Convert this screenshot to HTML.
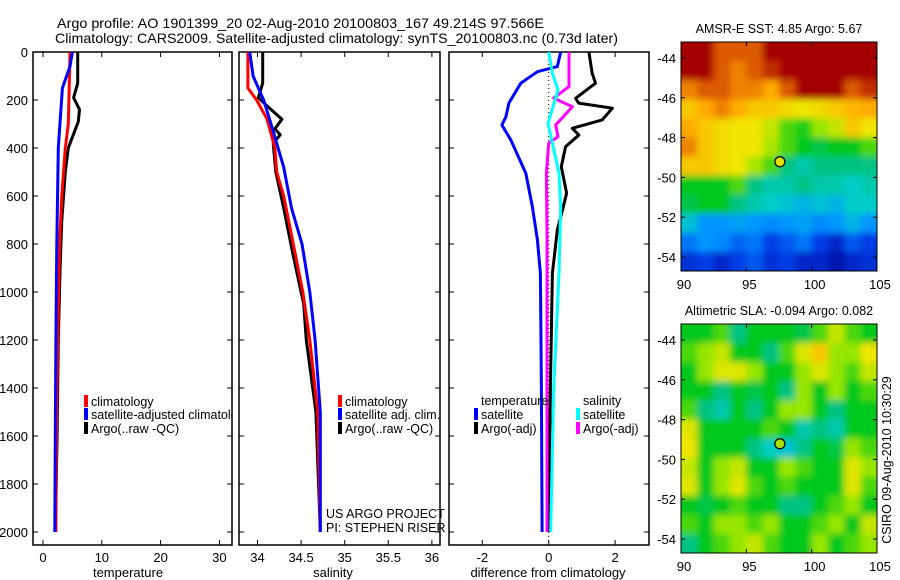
<!DOCTYPE html>
<html><head><meta charset="utf-8"><style>
body{margin:0;background:#fff}
svg{display:block;font-family:"Liberation Sans",sans-serif}
</style></head><body>
<svg id="chart" width="900" height="580" viewBox="0 0 900 580" xmlns="http://www.w3.org/2000/svg">
<defs>
<filter id="blur" x="-5%" y="-5%" width="110%" height="110%"><feGaussianBlur stdDeviation="3.5"/></filter>
<clipPath id="mapclip1"><rect x="681" y="42" width="196" height="229"/></clipPath>
<clipPath id="mapclip2"><rect x="681" y="324" width="196" height="229"/></clipPath>
</defs>
<rect width="900" height="580" fill="#fff"/>
<text x="57" y="28" font-size="14" textLength="487" lengthAdjust="spacingAndGlyphs">Argo profile: AO 1901399_20 02-Aug-2010 20100803_167 49.214S 97.566E</text>
<text x="55" y="43" font-size="14" textLength="563" lengthAdjust="spacingAndGlyphs">Climatology: CARS2009. Satellite-adjusted climatology: synTS_20100803.nc (0.73d later)</text>
<g id="g"></g>
</svg>
<script>
// ---- data ----
const depthsTClim=[0,100,300,400,600,800,1200,1600,2000];
const tempClim=[4.6,4.5,4.3,3.8,3.2,2.8,2.5,2.3,2.2];
const depthsTSat=[0,60,150,400,800,1200,1600,2000];
const tempSat=[5.0,4.6,3.3,2.6,2.35,2.2,2.1,2.0];
const depthsTArgo=[0,130,190,240,290,400,500,700,900,1200,1600,2000];
const tempArgo=[5.9,5.9,5.2,6.2,6.0,4.3,3.8,3.2,2.9,2.6,2.4,2.1];
const depthsSClim=[0,150,200,280,400,500,600,800,1000,1200,1500,2000];
const salClim=[33.89,33.89,33.99,34.11,34.20,34.22,34.30,34.41,34.52,34.60,34.69,34.72];
const depthsSSat=[0,100,200,330,480,650,800,1000,1200,1500,2000];
const salSat=[33.91,33.95,34.07,34.18,34.30,34.39,34.51,34.60,34.66,34.72,34.72];
const depthsSArgo=[0,130,190,225,280,320,345,380,500,650,850,1050,1200,1500,2000];
const salArgo=[34.06,34.06,34.01,34.11,34.28,34.20,34.26,34.18,34.21,34.30,34.41,34.53,34.56,34.67,34.72];
const depthsDTSat=[0,61,82,130,213,270,304,367,505,645,783,922,1400,2000];
const diffTSat=[0.36,0.26,-0.34,-0.84,-1.2,-1.29,-1.41,-1.14,-0.69,-0.49,-0.34,-0.25,-0.22,-0.2];
const depthsDTArgo=[0,89,130,193,213,234,283,318,346,394,478,588,645,742,922,1400,2000];
const diffTArgo=[1.21,1.31,1.41,0.81,0.9,1.92,1.61,0.71,0.91,0.51,0.38,0.54,0.44,0.26,0.11,0.05,0.0];
const depthsDSArgo=[0,144,192,228,304,353,380,505,783,1400,2000];
const diffSArgo=[0.61,0.61,0.15,0.71,0.21,0.28,0.0,-0.07,-0.05,-0.05,-0.05];
const depthsDSSat=[0,89,158,228,297,380,505,645,922,1400,2000];
const diffSSat=[0.0,0.11,0.28,0.13,-0.02,0.11,0.31,0.36,0.31,0.15,0.06];
const depthTicks=[0,200,400,600,800,1000,1200,1400,1600,1800,2000];
const tempTicks=[0,10,20,30];
const salTicks=[34,34.5,35,35.5,36];
const diffTicks=[-2,0,2];
const latTicks=[-44,-46,-48,-50,-52,-54];
const lonTicks=[90,95,100,105];
const sstGrid=[
[1,1,0.9,0.9,0.9,1,1,1,1,1,1,1],
[1,1,0.9,0.85,0.9,0.95,1,1,1,1,1,1],
[0.85,0.9,0.9,0.85,0.85,0.8,0.9,1,1,1,0.9,0.95],
[0.75,0.8,0.85,0.8,0.75,0.75,0.72,0.7,0.72,0.75,0.78,0.8],
[0.8,0.75,0.72,0.7,0.7,0.65,0.55,0.52,0.6,0.65,0.75,0.7],
[0.85,0.75,0.72,0.7,0.7,0.62,0.55,0.5,0.48,0.5,0.5,0.55],
[0.75,0.75,0.72,0.7,0.62,0.55,0.45,0.42,0.45,0.45,0.45,0.45],
[0.5,0.5,0.5,0.55,0.45,0.42,0.42,0.45,0.42,0.42,0.4,0.42],
[0.48,0.5,0.5,0.45,0.42,0.4,0.38,0.35,0.38,0.35,0.4,0.4],
[0.38,0.3,0.3,0.32,0.3,0.28,0.3,0.32,0.28,0.3,0.35,0.3],
[0.25,0.3,0.28,0.22,0.25,0.15,0.2,0.25,0.15,0.1,0.2,0.15],
[0.12,0.15,0.1,0.15,0.2,0.12,0.15,0.1,0.1,0.05,0.1,0.12]];
const slaGrid=[
[0.5,0.5,0.55,0.45,0.5,0.5,0.5,0.48,0.55,0.65,0.55,0.5],
[0.55,0.6,0.65,0.5,0.5,0.45,0.55,0.68,0.75,0.6,0.6,0.7],
[0.5,0.6,0.68,0.68,0.6,0.5,0.5,0.6,0.68,0.6,0.55,0.65],
[0.5,0.5,0.45,0.5,0.48,0.5,0.45,0.6,0.5,0.6,0.5,0.55],
[0.55,0.45,0.42,0.5,0.45,0.5,0.6,0.6,0.5,0.45,0.5,0.5],
[0.68,0.5,0.5,0.5,0.5,0.55,0.5,0.42,0.45,0.42,0.5,0.5],
[0.7,0.5,0.5,0.5,0.45,0.4,0.38,0.45,0.5,0.48,0.6,0.55],
[0.65,0.5,0.6,0.65,0.5,0.5,0.6,0.55,0.5,0.5,0.68,0.6],
[0.68,0.5,0.6,0.68,0.55,0.5,0.55,0.5,0.5,0.5,0.68,0.55],
[0.5,0.48,0.5,0.55,0.5,0.5,0.45,0.45,0.5,0.55,0.6,0.5],
[0.55,0.5,0.6,0.6,0.55,0.6,0.5,0.5,0.55,0.6,0.5,0.65],
[0.45,0.5,0.55,0.6,0.65,0.55,0.5,0.5,0.6,0.5,0.55,0.6]];
const floatLon=97.566, floatLat=-49.214;

// ---- drawing ----
const NS='http://www.w3.org/2000/svg';
const G=document.getElementById('g');
function el(t,a,p){const e=document.createElementNS(NS,t);for(const k in a)e.setAttribute(k,a[k]);(p||G).appendChild(e);return e;}
function txt(s,a,p){const e=el('text',a,p);e.textContent=s;return e;}
const yD=d=>52+d*0.24;
const Y0=52,Y1=545;
const panels=[
 {name:'temperature',x0:33,x1:232,xs:v=>43+(v-0)*5.88,ticks:tempTicks,label:'temperature',lx:128},
 {name:'salinity',x0:239,x1:440,xs:v=>257.5+(v-34)*87.2,ticks:salTicks,label:'salinity',lx:333},
 {name:'difference',x0:449,x1:649,xs:v=>548.7+v*33.2,ticks:diffTicks,label:'difference from climatology',lx:548}
];
panels.forEach((p,i)=>{
 const f=el('rect',{x:p.x0,y:Y0,width:p.x1-p.x0,height:Y1-Y0,fill:'none',stroke:'#000','stroke-width':1.5});
 
 
 p.ticks.forEach(t=>{const x=p.xs(t);
  el('line',{x1:x,x2:x,y1:Y1,y2:Y1-5,stroke:'#000'});el('line',{x1:x,x2:x,y1:Y0,y2:Y0+5,stroke:'#000'});
  const l=txt(String(t),{x:x,y:562,'font-size':13,'text-anchor':'middle'});
  
  
 });
 depthTicks.forEach(d=>{const y=yD(d);
  el('line',{x1:p.x0,x2:p.x0+5,y1:y,y2:y,stroke:'#000'});el('line',{x1:p.x1,x2:p.x1-5,y1:y,y2:y,stroke:'#000'});
  if(i===0){const l=txt(String(d),{x:28,y:y+5,'font-size':13,'text-anchor':'end'});
   
   }
 });
 const xl=txt(p.label,{x:p.lx,y:577,'font-size':13,'text-anchor':'middle'});
 
 
});
function line(p,ds,vs,color,name){
 const pts=ds.map((d,i)=>p.xs(vs[i]).toFixed(1)+','+yD(d).toFixed(1)).join(' ');
 const e=el('polyline',{points:pts,fill:'none',stroke:color,'stroke-width':3,'stroke-linejoin':'round'});
 
 
}
const [P1,P2,P3]=panels;
line(P1,depthsTArgo,tempArgo,'#000','temp-argo-line');
line(P1,depthsTClim,tempClim,'#f00','temp-climatology-line');
line(P1,depthsTSat,tempSat,'#00f','temp-satellite-line');
line(P2,depthsSArgo,salArgo,'#000','sal-argo-line');
line(P2,depthsSClim,salClim,'#f00','sal-climatology-line');
line(P2,depthsSSat,salSat,'#00f','sal-satellite-line');
el('line',{x1:P3.xs(0),x2:P3.xs(0),y1:Y0,y2:Y1,stroke:'#000','stroke-dasharray':'1,3'});
line(P3,depthsDTArgo,diffTArgo,'#000','diff-temp-argo-line');
line(P3,depthsDTSat,diffTSat,'#00f','diff-temp-satellite-line');
line(P3,depthsDSArgo,diffSArgo,'#f0f','diff-sal-argo-line');
line(P3,depthsDSSat,diffSSat,'#0ff','diff-sal-satellite-line');
// legends
function leg(x,y,c,s,name){
 const g=el('g',{});
 
 
 el('rect',{x:x,y:y-10,width:4,height:12,fill:c},g);
 txt(s,{x:x+7,y:y+1,'font-size':12.5},g);
}
const clip=el('clipPath',{id:'c1'});el('rect',{x:33,y:0,width:199,height:580},clip);
leg(84,405,'#f00','climatology','legend-temp-climatology');
const lg=el('g',{'clip-path':'url(#c1)'});


el('rect',{x:84,y:408,width:4,height:12,fill:'#00f'},lg);txt('satellite-adjusted climatology',{x:91,y:419,'font-size':12.5},lg);
leg(84,432,'#000','Argo(..raw -QC)','legend-temp-argo');
leg(338,405,'#f00','climatology','legend-sal-climatology');
leg(338,418,'#00f','satellite adj. clim.','legend-sal-satellite');
leg(338,432,'#000','Argo(..raw -QC)','legend-sal-argo');
const t1=txt('temperature',{x:481,y:405,'font-size':12.5});
const t2=txt('salinity',{x:583,y:405,'font-size':12.5});
leg(474,418,'#00f','satellite','legend-diff-temp-satellite');
leg(474,432,'#000','Argo(-adj)','legend-diff-temp-argo');
leg(576,418,'#0ff','satellite','legend-diff-sal-satellite');
leg(576,432,'#f0f','Argo(-adj)','legend-diff-sal-argo');
const u1=txt('US ARGO PROJECT',{x:326,y:518,'font-size':12.5});
const u2=txt('PI: STEPHEN RISER',{x:326,y:532,'font-size':12.5});
// maps
const stops=[[0,[0,0,140]],[0.15,[0,60,230]],[0.3,[0,150,255]],[0.4,[0,205,200]],[0.45,[0,195,130]],[0.5,[0,200,30]],[0.6,[150,230,0]],[0.7,[240,230,0]],[0.8,[255,170,0]],[0.9,[220,90,0]],[1,[165,0,0]]];
function cmap(v){for(let i=1;i<stops.length;i++){if(v<=stops[i][0]){const[a,ca]=stops[i-1],[b,cb]=stops[i];const t=(v-a)/(b-a);return 'rgb('+ca.map((c,k)=>Math.round(c+(cb[k]-c)*t)).join(',')+')';}}return 'rgb(165,0,0)';}
function drawMap(y0,y1,grid,title,name,dotColor,clipId){
 const x0=681,x1=877,latTop=-43.2,latBot=-54.7;
 const xs=l=>x0+(l-90)*(x1-x0)/15;
 const ys=la=>y0+(latTop-la)*(y1-y0)/(latTop-latBot);
 const g=el('g',{});
 
 
 const R=grid.length,C=grid[0].length,cw=(x1-x0)/C,ch=(y1-y0)/R;
 const cg=el('g',{'clip-path':'url(#'+clipId+')'},g);
 const bg=el('g',{filter:'url(#blur)'},cg);
 grid.forEach((row,r)=>row.forEach((v,c)=>{
  // extend edge cells so blur doesn't fade at borders
  const ex0=c===0?-8:0, ex1=c===C-1?8:0, ey0=r===0?-8:0, ey1=r===R-1?8:0;
  const cell=el('rect',{x:x0+c*cw+ex0,y:y0+r*ch+ey0,width:cw+0.6-ex0+ex1,height:ch+0.6-ey0+ey1,fill:cmap(v)},bg);
  
  
 }));
 el('rect',{x:x0,y:y0,width:x1-x0,height:y1-y0,fill:'none',stroke:'#000'},g);
 latTicks.forEach(la=>{const y=ys(la);el('line',{x1:x0,x2:x0+4,y1:y,y2:y,stroke:'#000'},g);el('line',{x1:x1,x2:x1-4,y1:y,y2:y,stroke:'#000'},g);
  const l=txt(String(la),{x:676,y:y+5,'font-size':13,'text-anchor':'end'},g);
  
  });
 lonTicks.forEach(lo=>{const x=xs(lo);el('line',{x1:x,x2:x,y1:y1,y2:y1-4,stroke:'#000'},g);el('line',{x1:x,x2:x,y1:y0,y2:y0+4,stroke:'#000'},g);
  const l=txt(String(lo),{x:x+3,y:y1+18,'font-size':13,'text-anchor':'middle'},g);
  
  });
 const t=txt(title,{x:779,y:y0-9,'font-size':12.5,'text-anchor':'middle'},g);
 
 
 const d=el('circle',{cx:xs(floatLon),cy:ys(floatLat),r:5,fill:dotColor,stroke:'#000','stroke-width':1.2},g);
 
 
}
drawMap(42,271,sstGrid,'AMSR-E SST: 4.85 Argo: 5.67','sst-map','#dde000','mapclip1');
drawMap(324,553,slaGrid,'Altimetric SLA: -0.094 Argo: 0.082','sla-map','#a8e000','mapclip2');
const st=txt('CSIRO 09-Aug-2010 10:30:29',{x:0,y:0,'font-size':12.5,'text-anchor':'middle',transform:'translate(891,460) rotate(-90)'});


</script>
</body></html>
